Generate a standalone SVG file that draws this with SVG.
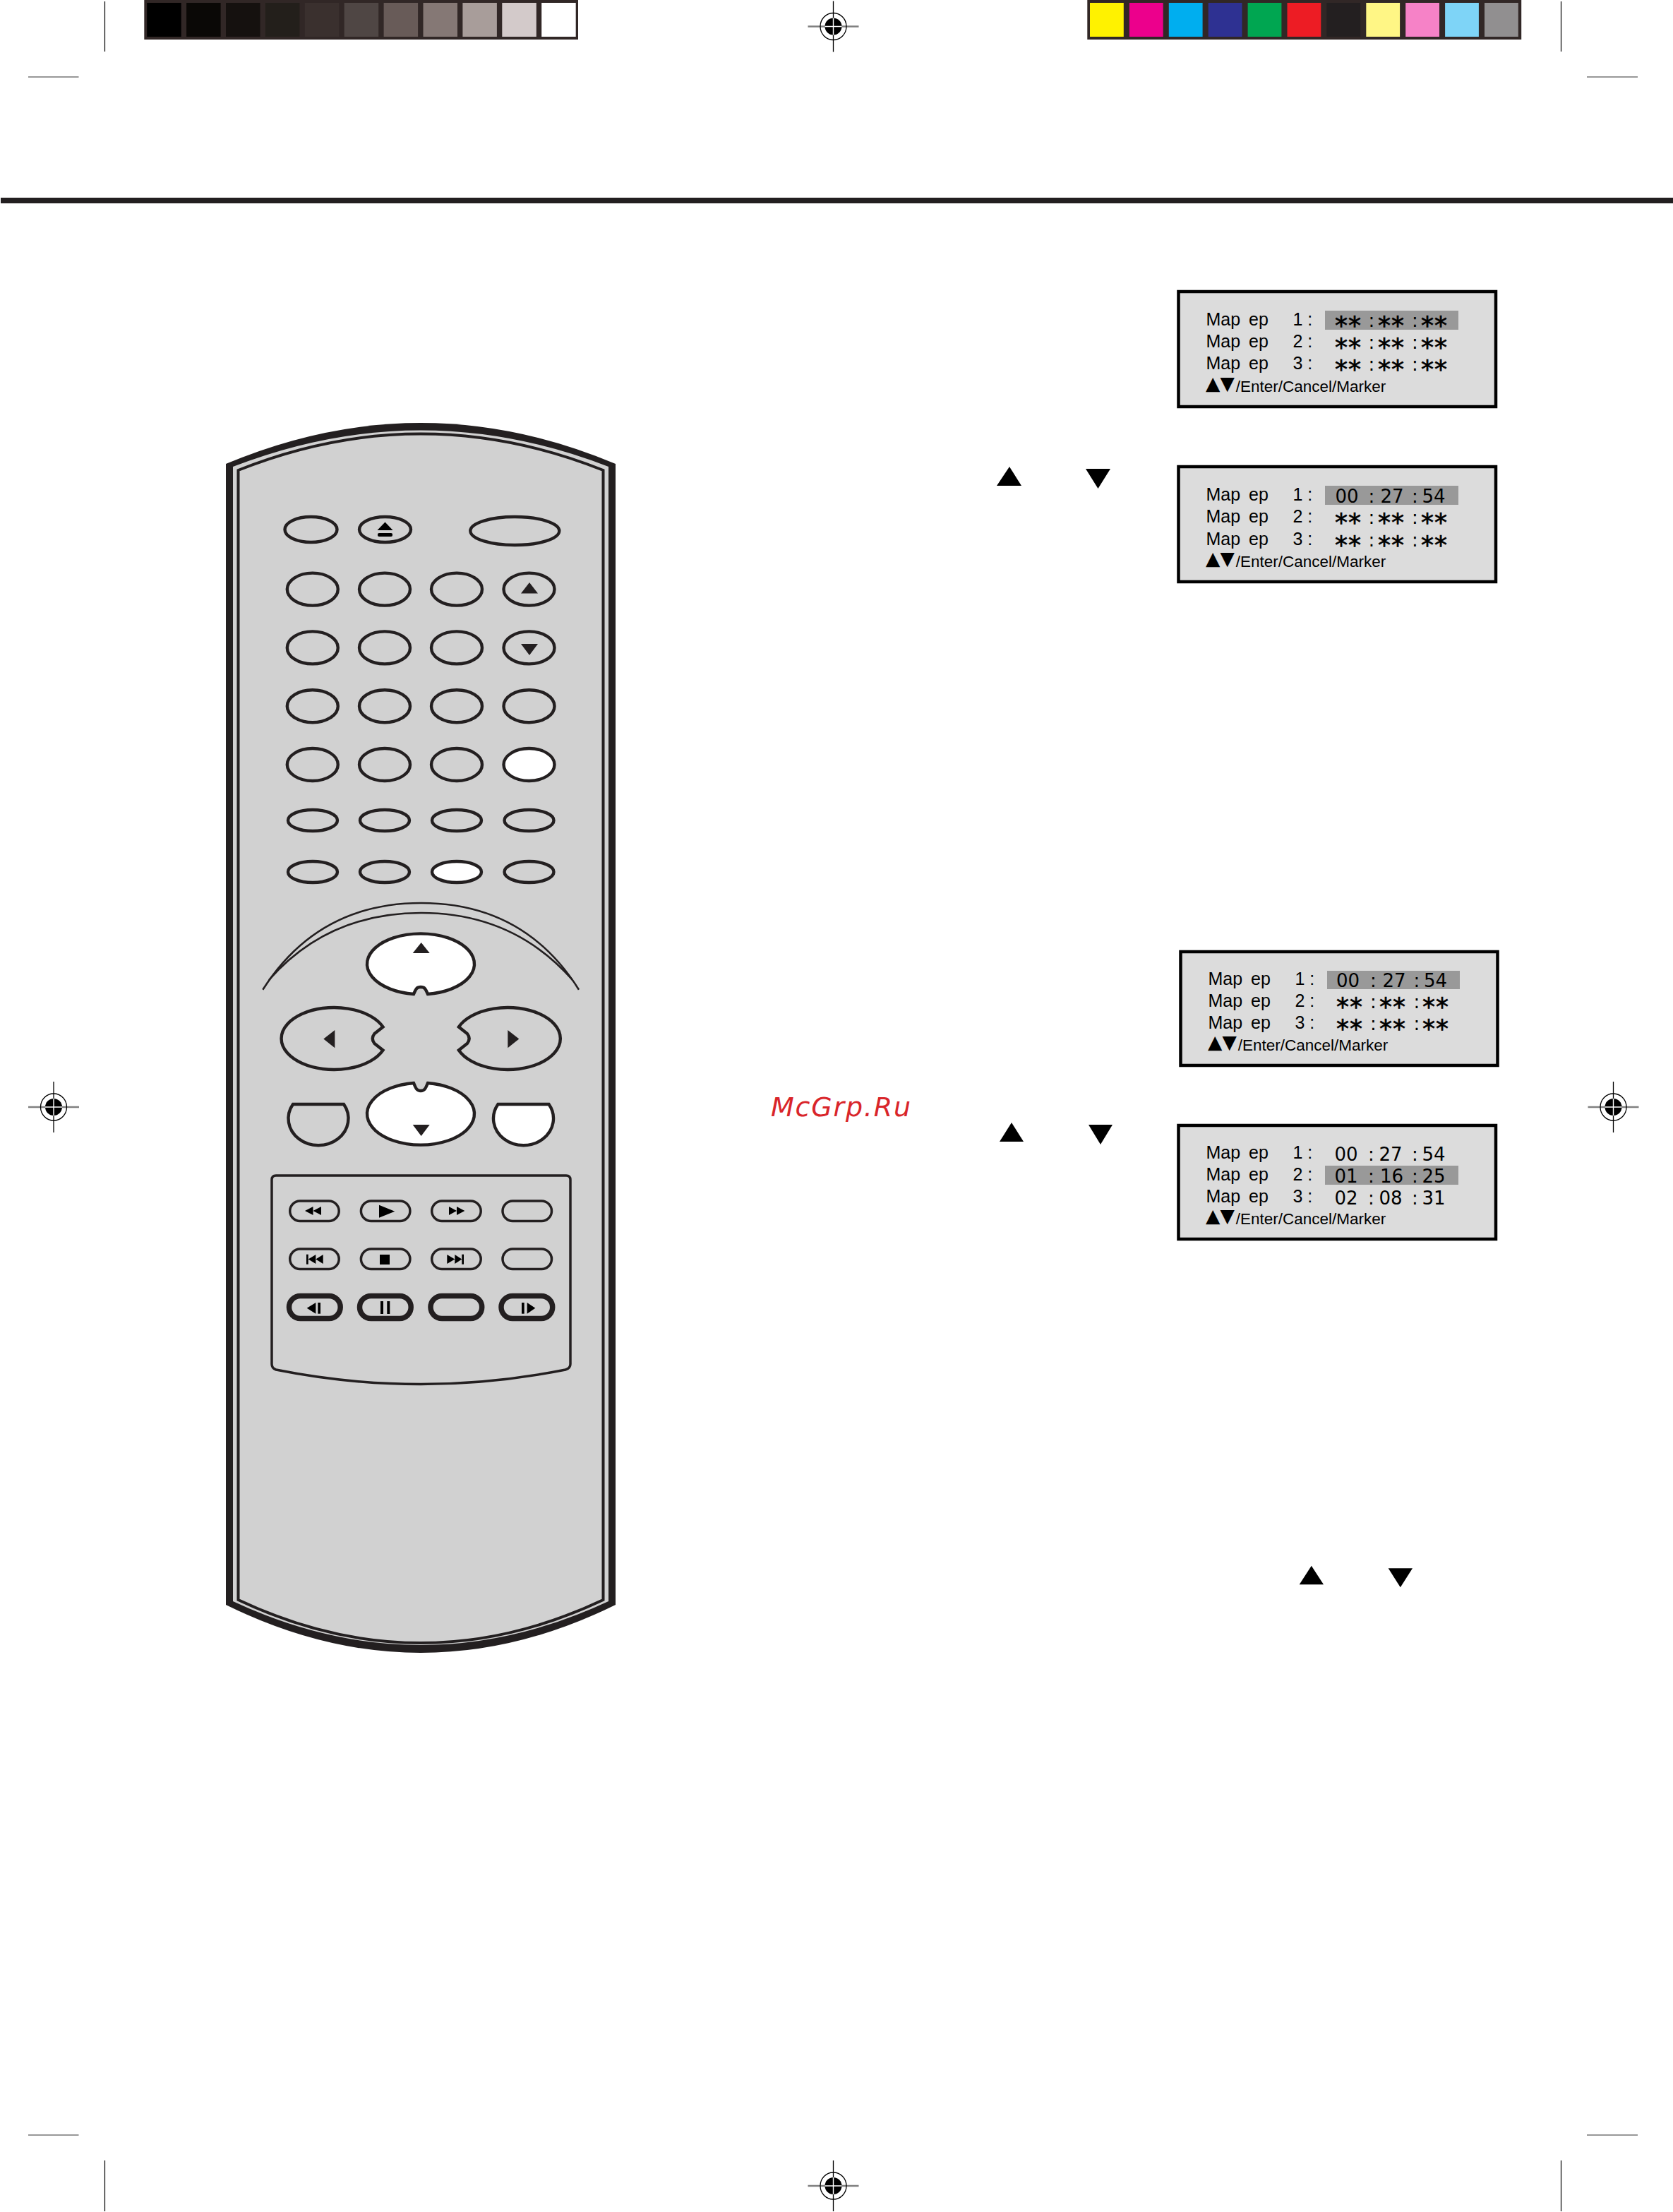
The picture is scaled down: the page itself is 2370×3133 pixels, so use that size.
<svg xmlns="http://www.w3.org/2000/svg" xmlns:xlink="http://www.w3.org/1999/xlink" width="2370" height="3133" viewBox="0 0 2370 3133">
<style>
.k{fill:#231f20}
.b{fill:#000}
.btn{fill:none;stroke:#231f20;stroke-width:4.4}
.wbtn{fill:#fff;stroke:#231f20;stroke-width:4.4}
.pill{fill:none;stroke:#231f20;stroke-width:3.5}
.thick{fill:none;stroke:#231f20;stroke-width:7.5}
.scr{fill:#dcdcdc;stroke:#000;stroke-width:4.5}
.hl{fill:#999}
.m,.f{font-family:"Liberation Sans",Arial,sans-serif;fill:#000}
.m{font-size:25px}
.wide{word-spacing:5px}
.f{font-size:22.5px}
.tri{font-family:"DejaVu Sans",sans-serif;font-size:26.5px}
.t{font-family:"DejaVu Sans",sans-serif;font-size:26px;fill:#000}
.s{font-family:"DejaVu Sans",sans-serif;font-size:36px;fill:#000;letter-spacing:1px;stroke:#000;stroke-width:.7px}
.c{font-size:26px;letter-spacing:0;stroke:none}
.crop{stroke:#000;stroke-width:1.2;fill:none}
.reg{stroke:#000;stroke-width:1.3;fill:none}
.regh{stroke:#808080;stroke-width:2.4;fill:none}
.regw{stroke:#fff;stroke-width:1.4;fill:none}
</style>
<defs>
<g id="regmark">
<path class="regh" d="M-36 0H36"/>
<ellipse class="reg" cx="0" cy="0" rx="18.5" ry="19"/>
<ellipse class="b" cx="0" cy="0" rx="12" ry="12"/>
<path class="reg" d="M0 -36V36"/>
<path class="regw" d="M-12 0H12M0 -12V12"/>
</g>
</defs>
<rect width="2370" height="3133" fill="#fff"/>

<g id="crop-marks">
<path class="crop" d="M148.500 2V73M2211.500 2V73M148.500 3060V3132M2211.500 3060V3132"/>
<path stroke="#333" stroke-width="1.200" fill="none" d="M40 109H111.500M2248 109H2320M40 3024H111.500M2248 3024H2320"/>
<use xlink:href="#regmark" href="#regmark" x="1180.500" y="37.500"/>
<use xlink:href="#regmark" href="#regmark" x="1180.500" y="3096"/>
<use xlink:href="#regmark" href="#regmark" x="76" y="1568"/>
<use xlink:href="#regmark" href="#regmark" x="2285.500" y="1568"/>
</g>

<g id="gray-strip">
<rect x="204.300" y="0" width="614.700" height="56" fill="#312726"/>
<rect x="208.200" y="4" width="48.500" height="48" fill="#000"/>
<rect x="264.100" y="4" width="48.500" height="48" fill="#0a0806"/>
<rect x="320" y="4" width="48.500" height="48" fill="#15110f"/>
<rect x="375.900" y="4" width="48.500" height="48" fill="#231f1b"/>
<rect x="431.800" y="4" width="48.500" height="48" fill="#3a302e"/>
<rect x="487.700" y="4" width="48.500" height="48" fill="#4f4644"/>
<rect x="543.600" y="4" width="48.500" height="48" fill="#685b58"/>
<rect x="599.500" y="4" width="48.500" height="48" fill="#857875"/>
<rect x="655.400" y="4" width="48.500" height="48" fill="#a89d9a"/>
<rect x="711.300" y="4" width="48.500" height="48" fill="#d3caca"/>
<rect x="767.200" y="4" width="48.500" height="48" fill="#fff"/>
</g>
<g id="colour-strip">
<rect x="1540.300" y="0" width="614.900" height="56" fill="#312726"/>
<rect x="1544" y="4" width="47.800" height="48" fill="#fff200"/>
<rect x="1599.900" y="4" width="47.800" height="48" fill="#ec008c"/>
<rect x="1655.800" y="4" width="47.800" height="48" fill="#00aeef"/>
<rect x="1711.700" y="4" width="47.800" height="48" fill="#2e3192"/>
<rect x="1767.600" y="4" width="47.800" height="48" fill="#00a651"/>
<rect x="1823.500" y="4" width="47.800" height="48" fill="#ed1c24"/>
<rect x="1879.400" y="4" width="47.800" height="48" fill="#231f20"/>
<rect x="1935.300" y="4" width="47.800" height="48" fill="#fff685"/>
<rect x="1991.200" y="4" width="47.800" height="48" fill="#f682c7"/>
<rect x="2047.100" y="4" width="47.800" height="48" fill="#7ed4f7"/>
<rect x="2103" y="4" width="47.800" height="48" fill="#918f90"/>
</g>
<rect id="header-rule" x="1" y="280" width="2369" height="8" class="k"/>

<g id="remote">
<path id="remote-shell" class="k" d="M320 657Q596 541 872 657V2273Q596 2409 320 2273Z"/>
<path id="remote-face" fill="#d1d1d1" d="M330 661Q596 558 862 661V2268Q596 2392 330 2268Z"/>
<path fill="none" stroke="#231f20" stroke-width="4" d="M337.500 666Q596 563 854.500 666V2266Q596 2388 337.500 2266Z"/>

<g id="buttons-top">
<ellipse class="btn" cx="440.500" cy="750" rx="37" ry="18"/>
<ellipse class="btn" cx="545.500" cy="750" rx="36.500" ry="18"/>
<polygon class="b" points="545.500,739.500 556.500,751 534.500,751"/>
<rect class="b" x="535" y="755" width="21" height="5" rx="2"/>
<ellipse class="btn" cx="729.300" cy="752" rx="63" ry="20"/>
</g>
<g id="buttons-grid">
<ellipse class="btn" cx="442.800" cy="834.600" rx="36" ry="23"/>
<ellipse class="btn" cx="545" cy="834.600" rx="36" ry="23"/>
<ellipse class="btn" cx="647" cy="834.600" rx="36" ry="23"/>
<ellipse class="btn" cx="749.500" cy="834.600" rx="36" ry="23"/>
<polygon class="k" points="750,825 762,840.600 738,840.600"/>
<ellipse class="btn" cx="442.800" cy="917.400" rx="36" ry="23"/>
<ellipse class="btn" cx="545" cy="917.400" rx="36" ry="23"/>
<ellipse class="btn" cx="647" cy="917.400" rx="36" ry="23"/>
<ellipse class="btn" cx="749.500" cy="917.400" rx="36" ry="23"/>
<polygon class="k" points="738,912 762,912 750,928"/>
<ellipse class="btn" cx="442.800" cy="1000.200" rx="36" ry="23"/>
<ellipse class="btn" cx="545" cy="1000.200" rx="36" ry="23"/>
<ellipse class="btn" cx="647" cy="1000.200" rx="36" ry="23"/>
<ellipse class="btn" cx="749.500" cy="1000.200" rx="36" ry="23"/>
<ellipse class="btn" cx="442.800" cy="1083" rx="36" ry="23"/>
<ellipse class="btn" cx="545" cy="1083" rx="36" ry="23"/>
<ellipse class="btn" cx="647" cy="1083" rx="36" ry="23"/>
<ellipse class="wbtn" cx="749.500" cy="1083" rx="36" ry="23"/>
<ellipse class="btn" cx="443" cy="1162" rx="35" ry="15"/>
<ellipse class="btn" cx="545" cy="1162" rx="35" ry="15"/>
<ellipse class="btn" cx="647" cy="1162" rx="35" ry="15"/>
<ellipse class="btn" cx="749.500" cy="1162" rx="35" ry="15"/>
<ellipse class="btn" cx="443" cy="1235" rx="35" ry="15"/>
<ellipse class="btn" cx="545" cy="1235" rx="35" ry="15"/>
<ellipse class="wbtn" cx="647" cy="1235" rx="35" ry="15"/>
<ellipse class="btn" cx="749.500" cy="1235" rx="35" ry="15"/>
</g>

<g id="nav-pad">
<path fill="none" stroke="#231f20" stroke-width="2.600" d="M372.300 1401.700C430 1311 510 1279 596.700 1279C683 1279 763 1311 820 1401.700"/>
<path fill="none" stroke="#231f20" stroke-width="2.600" d="M381 1388C440 1321 515 1293 596.700 1293C680 1293 752 1321 811 1388"/>
<path class="wbtn" d="M586 1408C589 1401 590 1398 596 1398C602 1398 603 1401 606 1408A76 43 0 1 0 586 1408Z"/>
<polygon class="k" points="596.700,1335 608.700,1350 584.700,1350"/>
<path class="wbtn" d="M586 1534C589 1541 590 1545 596 1545C602 1545 603 1541 606 1534A76 44 0 1 1 586 1534Z"/>
<polygon class="k" points="584.700,1593 608.700,1593 596.700,1609"/>
<path id="nav-left" class="btn" d="M542.500 1454.500A74.700 44 0 1 0 542.500 1487.500L530.500 1478Q525 1471 530.500 1464Z"/>
<polygon class="k" points="474.300,1459 474.300,1484.300 458.300,1471.500"/>
<use xlink:href="#nav-left" href="#nav-left" transform="translate(1192.400 0) scale(-1 1)"/>
<polygon class="k" points="719.300,1459 719.300,1484.300 735.300,1471.500"/>
<path class="btn" d="M415 1564H487A42.500 38 0 1 1 415 1564Z"/>
<path class="wbtn" d="M705.500 1564H777.500A42.500 38 0 1 1 705.500 1564Z"/>
</g>

<g id="transport">
<path fill="none" stroke="#231f20" stroke-width="3.500" d="M391 1665H802Q808 1665 808 1671V1932Q808 1938 801 1940Q596 1981 391 1940Q385 1938 385 1932V1671Q385 1665 391 1665Z"/>
<rect class="pill" x="410.700" y="1701" width="69.500" height="28.500" rx="14.200"/>
<rect class="pill" x="511.400" y="1701" width="69.500" height="28.500" rx="14.200"/>
<rect class="pill" x="611.700" y="1701" width="69.500" height="28.500" rx="14.200"/>
<rect class="pill" x="712" y="1701" width="69.500" height="28.500" rx="14.200"/>
<rect class="pill" x="410.700" y="1769" width="69.500" height="28.500" rx="14.200"/>
<rect class="pill" x="511.400" y="1769" width="69.500" height="28.500" rx="14.200"/>
<rect class="pill" x="611.700" y="1769" width="69.500" height="28.500" rx="14.200"/>
<rect class="pill" x="712" y="1769" width="69.500" height="28.500" rx="14.200"/>
<rect class="thick" x="409.500" y="1835.500" width="72.700" height="32" rx="16"/>
<rect class="thick" x="509.500" y="1835.500" width="72.700" height="32" rx="16"/>
<rect class="thick" x="610" y="1835.500" width="72.700" height="32" rx="16"/>
<rect class="thick" x="710" y="1835.500" width="72.700" height="32" rx="16"/>
<polygon class="b" points="432,1715 443.500,1709 443.500,1721"/>
<polygon class="b" points="443.500,1715 455,1709 455,1721"/>
<polygon class="b" points="537,1706.700 559.300,1715.700 537,1724.700"/>
<polygon class="b" points="636,1709 647,1715 636,1721"/>
<polygon class="b" points="647,1709 658.300,1715 647,1721"/>
<rect class="b" x="434" y="1776.700" width="2.700" height="14"/>
<polygon class="b" points="436.700,1783.500 447.300,1777 447.300,1790"/>
<polygon class="b" points="447.300,1783.500 457.700,1777 457.700,1790"/>
<rect class="b" x="538" y="1777" width="14" height="14"/>
<polygon class="b" points="633.300,1777 644.300,1783.500 633.300,1790"/>
<polygon class="b" points="644.300,1777 654.300,1783.500 644.300,1790"/>
<rect class="b" x="654.300" y="1776.700" width="2.700" height="14"/>
<polygon class="b" points="434.700,1852.800 447.300,1845 447.300,1860.700"/>
<rect class="b" x="450.300" y="1845" width="3.700" height="15.700"/>
<rect class="b" x="539" y="1843" width="4" height="18"/>
<rect class="b" x="548.300" y="1843" width="4" height="18"/>
<rect class="b" x="739" y="1845" width="3.700" height="15.700"/>
<polygon class="b" points="746.700,1845 758.300,1852.800 746.700,1860.700"/>
</g>
</g>

<g id="screen-1">
<rect class="scr" x="1669.500" y="413" width="449.500" height="163"/>
<rect class="hl" x="1877" y="440" width="189" height="27"/>
<text class="m wide" x="1708.500" y="461">Map ep</text><text class="m" x="1831.500" y="461">1 :</text>
<text class="s" y="472.500"><tspan x="1891">**</tspan><tspan class="c" x="1938.500" y="463">:</tspan><tspan x="1952" y="472.500">**</tspan><tspan class="c" x="2000" y="463">:</tspan><tspan x="2013" y="472.500">**</tspan></text>
<text class="m wide" x="1708.500" y="492">Map ep</text><text class="m" x="1831.500" y="492">2 :</text>
<text class="s" y="503.500"><tspan x="1891">**</tspan><tspan class="c" x="1938.500" y="494">:</tspan><tspan x="1952" y="503.500">**</tspan><tspan class="c" x="2000" y="494">:</tspan><tspan x="2013" y="503.500">**</tspan></text>
<text class="m wide" x="1708.500" y="523">Map ep</text><text class="m" x="1831.500" y="523">3 :</text>
<text class="s" y="534.500"><tspan x="1891">**</tspan><tspan class="c" x="1938.500" y="525">:</tspan><tspan x="1952" y="534.500">**</tspan><tspan class="c" x="2000" y="525">:</tspan><tspan x="2013" y="534.500">**</tspan></text>
<text class="f" x="1708" y="555"><tspan class="tri" y="552">▲▼</tspan><tspan x="1750.700" y="555">/Enter/Cancel/Marker</tspan></text>
</g>

<g id="screen-2">
<rect class="scr" x="1669.500" y="661" width="449.500" height="163"/>
<rect class="hl" x="1877" y="688" width="189" height="27"/>
<text class="m wide" x="1708.500" y="709">Map ep</text><text class="m" x="1831.500" y="709">1 :</text>
<text class="t" y="711.700"><tspan x="1891.500">00</tspan><tspan x="1938.500">:</tspan><tspan x="1955.500">27</tspan><tspan x="2000">:</tspan><tspan x="2014.500">54</tspan></text>
<text class="m wide" x="1708.500" y="740">Map ep</text><text class="m" x="1831.500" y="740">2 :</text>
<text class="s" y="751.500"><tspan x="1891">**</tspan><tspan class="c" x="1938.500" y="742">:</tspan><tspan x="1952" y="751.500">**</tspan><tspan class="c" x="2000" y="742">:</tspan><tspan x="2013" y="751.500">**</tspan></text>
<text class="m wide" x="1708.500" y="772">Map ep</text><text class="m" x="1831.500" y="772">3 :</text>
<text class="s" y="783.500"><tspan x="1891">**</tspan><tspan class="c" x="1938.500" y="774">:</tspan><tspan x="1952" y="783.500">**</tspan><tspan class="c" x="2000" y="774">:</tspan><tspan x="2013" y="783.500">**</tspan></text>
<text class="f" x="1708" y="803"><tspan class="tri" y="800">▲▼</tspan><tspan x="1750.700" y="803">/Enter/Cancel/Marker</tspan></text>
</g>

<g id="screen-3">
<rect class="scr" x="1672.500" y="1348" width="449" height="161"/>
<rect class="hl" x="1880" y="1375" width="188" height="26"/>
<text class="m wide" x="1711.500" y="1395">Map ep</text><text class="m" x="1834.500" y="1395">1 :</text>
<text class="t" y="1397.700"><tspan x="1893">00</tspan><tspan x="1941">:</tspan><tspan x="1958.500">27</tspan><tspan x="2002.500">:</tspan><tspan x="2017">54</tspan></text>
<text class="m wide" x="1711.500" y="1426">Map ep</text><text class="m" x="1834.500" y="1426">2 :</text>
<text class="s" y="1437.500"><tspan x="1893">**</tspan><tspan class="c" x="1941" y="1428">:</tspan><tspan x="1954" y="1437.500">**</tspan><tspan class="c" x="2002.500" y="1428">:</tspan><tspan x="2015" y="1437.500">**</tspan></text>
<text class="m wide" x="1711.500" y="1457">Map ep</text><text class="m" x="1834.500" y="1457">3 :</text>
<text class="s" y="1468.500"><tspan x="1893">**</tspan><tspan class="c" x="1941" y="1459">:</tspan><tspan x="1954" y="1468.500">**</tspan><tspan class="c" x="2002.500" y="1459">:</tspan><tspan x="2015" y="1468.500">**</tspan></text>
<text class="f" x="1711" y="1488"><tspan class="tri" y="1485">▲▼</tspan><tspan x="1753.700" y="1488">/Enter/Cancel/Marker</tspan></text>
</g>

<g id="screen-4">
<rect class="scr" x="1669.500" y="1594" width="449.500" height="161"/>
<rect class="hl" x="1877" y="1651" width="189" height="27"/>
<text class="m wide" x="1708.500" y="1641">Map ep</text><text class="m" x="1831.500" y="1641">1 :</text>
<text class="t" y="1643.700"><tspan x="1890.500">00</tspan><tspan x="1938">:</tspan><tspan x="1953.500">27</tspan><tspan x="2000">:</tspan><tspan x="2014.500">54</tspan></text>
<text class="m wide" x="1708.500" y="1672">Map ep</text><text class="m" x="1831.500" y="1672">2 :</text>
<text class="t" y="1674.700"><tspan x="1890.500">01</tspan><tspan x="1938">:</tspan><tspan x="1955">16</tspan><tspan x="2000">:</tspan><tspan x="2014.500">25</tspan></text>
<text class="m wide" x="1708.500" y="1703">Map ep</text><text class="m" x="1831.500" y="1703">3 :</text>
<text class="t" y="1705.700"><tspan x="1890.500">02</tspan><tspan x="1938">:</tspan><tspan x="1953.500">08</tspan><tspan x="2000">:</tspan><tspan x="2014.500">31</tspan></text>
<text class="f" x="1708" y="1734"><tspan class="tri" y="1731">▲▼</tspan><tspan x="1750.700" y="1734">/Enter/Cancel/Marker</tspan></text>
</g>

<g id="step-arrows">
<polygon class="b" points="1430,661 1447,688 1412,688"/>
<polygon class="b" points="1538,664 1573,664 1555.500,692"/>
<polygon class="b" points="1433,1590 1450,1617 1416,1617"/>
<polygon class="b" points="1542,1593 1576,1593 1559,1621"/>
<polygon class="b" points="1857.800,2217.700 1875,2244.300 1840.700,2244.300"/>
<polygon class="b" points="1966.700,2221.300 2001,2221.300 1983.800,2248.300"/>
</g>

<text id="watermark" x="1092" y="1580.700" font-family="'DejaVu Sans',sans-serif" font-style="italic" font-size="38" fill="#d9252a" textLength="198" lengthAdjust="spacing">McGrp.Ru</text>
</svg>
